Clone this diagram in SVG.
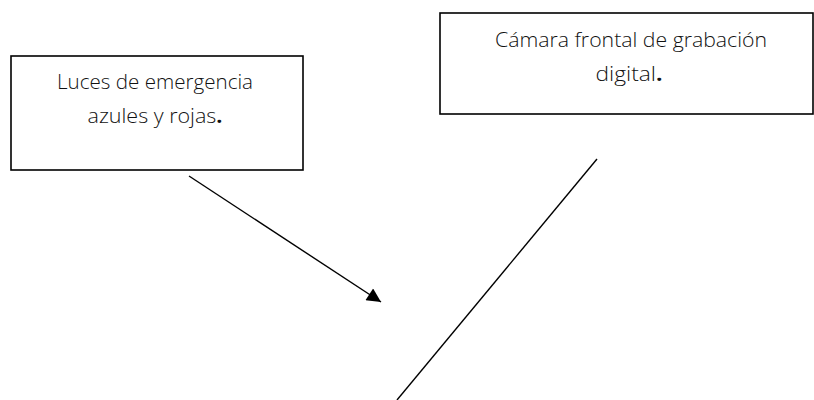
<svg xmlns="http://www.w3.org/2000/svg" width="814" height="400" viewBox="0 0 814 400">
<defs>
<style>
.box{fill:#fff;stroke:#000;stroke-width:1.6}
.lbl{font-family:"Open Sans","Noto Sans","Liberation Sans",sans-serif;font-weight:300;font-size:20px;fill:#111;text-anchor:middle}
.dot{font-weight:700}
.ln{stroke:#000;stroke-width:1.4;fill:none}
</style>
<marker id="ah" viewBox="0 0 10 10" refX="10" refY="5" markerWidth="16" markerHeight="14" markerUnits="userSpaceOnUse" orient="auto">
<path d="M0,0 L10,5 L0,10 z" fill="#000"/>
</marker>
</defs>
<rect width="814" height="400" fill="#fff"/>
<g id="node-luces">
<rect class="box" x="11" y="56" width="292" height="114"/>
<text class="lbl" x="155" y="89" textLength="196" lengthAdjust="spacingAndGlyphs">Luces de emergencia</text>
<text class="lbl" x="155" y="123" textLength="135" lengthAdjust="spacingAndGlyphs">azules y rojas<tspan class="dot">.</tspan></text>
</g>
<g id="node-camara">
<rect class="box" x="440" y="13" width="373" height="101"/>
<text class="lbl" x="631" y="47" textLength="272" lengthAdjust="spacingAndGlyphs">Cámara frontal de grabación</text>
<text class="lbl" x="629" y="81" textLength="67" lengthAdjust="spacingAndGlyphs">digital<tspan class="dot">.</tspan></text>
</g>
<g id="connectors">
<line class="ln" x1="189" y1="176" x2="381" y2="302" marker-end="url(#ah)"/>
<line class="ln" x1="597" y1="159" x2="397" y2="400"/>
</g>
</svg>
